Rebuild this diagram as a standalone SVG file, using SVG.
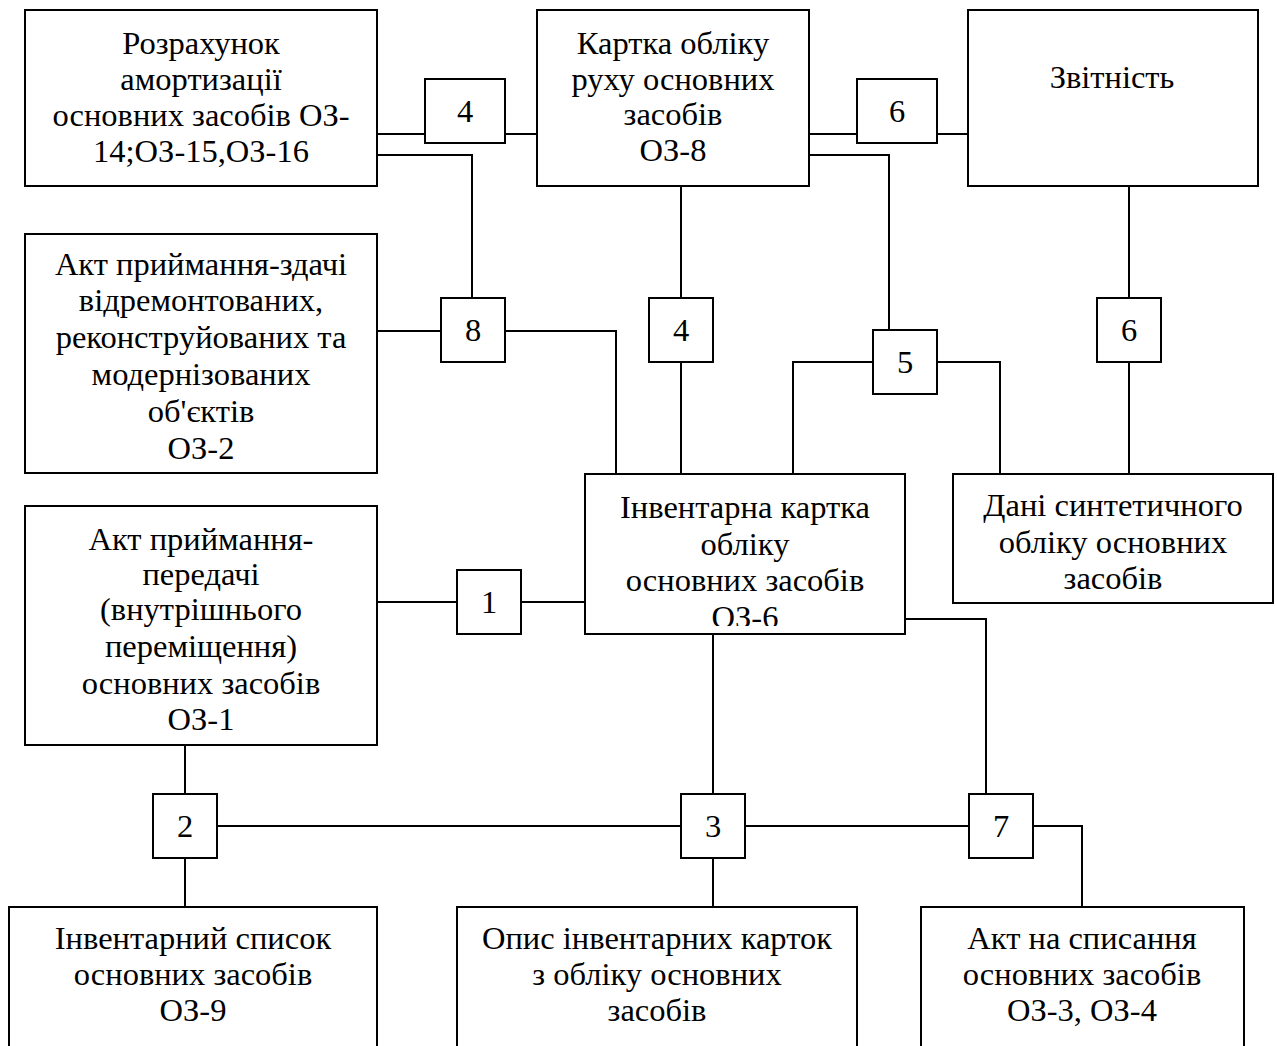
<svg xmlns="http://www.w3.org/2000/svg" width="1277" height="1046" viewBox="0 0 1277 1046">
<style>
rect{fill:#fff;stroke:#000;stroke-width:2}
text{font-family:"Liberation Serif","Times New Roman",serif;font-size:32.5px;fill:#000;text-anchor:middle}
.c path{fill:none;stroke:#000;stroke-width:2}
</style>
<defs>
<clipPath id="clipE"><rect x="585" y="474" width="322" height="152"/></clipPath>
</defs>
<rect x="0" y="0" width="1277" height="1046" style="stroke:none"/>
<g class="c" id="connectors">
<path d="M377 134H425M505 134H537"/>
<path d="M377 155H472V298"/>
<path d="M809 134H857M937 134H968"/>
<path d="M809 155H889V330"/>
<path d="M377 331H441M505 331H616V474"/>
<path d="M681 185V298M681 362V474"/>
<path d="M873 362H793V474M937 362H1000V474"/>
<path d="M1129 185V298M1129 362V474"/>
<path d="M377 602H457M521 602H585"/>
<path d="M905 619H986V794"/>
<path d="M713 634V794M713 858V907"/>
<path d="M185 745V794M185 858V907"/>
<path d="M217 826H681M745 826H969"/>
<path d="M1033 826H1082V907"/>
</g>
<g id="n-rozrakhunok"><rect x="25" y="10" width="352" height="176"/>
<text x="201" y="54">Розрахунок</text><text x="201" y="90">амортизації</text><text x="201" y="126">основних засобів ОЗ-</text><text x="201" y="162">14;ОЗ-15,ОЗ-16</text></g>
<g id="n-kartka"><rect x="537" y="10" width="272" height="176"/>
<text x="673" y="54">Картка обліку</text><text x="673" y="90">руху основних</text><text x="673" y="125">засобів</text><text x="673" y="161">ОЗ-8</text></g>
<g id="n-zvitnist"><rect x="968" y="10" width="290" height="176"/>
<text x="1112" y="88">Звітність</text></g>
<g id="n-akt-zdachi"><rect x="25" y="234" width="352" height="239"/>
<text x="201" y="275">Акт приймання-здачі</text><text x="201" y="311">відремонтованих,</text><text x="201" y="348">реконструйованих та</text><text x="201" y="385">модернізованих</text><text x="201" y="422">об'єктів</text><text x="201" y="459">ОЗ-2</text></g>
<g id="n-inv-kartka"><rect x="585" y="474" width="320" height="160"/>
<g clip-path="url(#clipE)"><text x="745" y="518">Інвентарна картка</text><text x="745" y="555">обліку</text><text x="745" y="591">основних засобів</text><text x="745" y="628">ОЗ-6</text></g></g>
<g id="n-dani"><rect x="953" y="474" width="320" height="129"/>
<text x="1113" y="516">Дані синтетичного</text><text x="1113" y="553">обліку основних</text><text x="1113" y="589">засобів</text></g>
<g id="n-akt-peredachi"><rect x="25" y="506" width="352" height="239"/>
<text x="201" y="550">Акт приймання-</text><text x="201" y="585">передачі</text><text x="201" y="620">(внутрішнього</text><text x="201" y="657">переміщення)</text><text x="201" y="694">основних засобів</text><text x="201" y="730">ОЗ-1</text></g>
<g id="n-inv-spysok"><rect x="9" y="907" width="368" height="150"/>
<text x="193" y="949">Інвентарний список</text><text x="193" y="985">основних засобів</text><text x="193" y="1021">ОЗ-9</text></g>
<g id="n-opys"><rect x="457" y="907" width="400" height="150"/>
<text x="657" y="949">Опис інвентарних карток</text><text x="657" y="985">з обліку основних</text><text x="657" y="1021">засобів</text></g>
<g id="n-akt-spysannia"><rect x="921" y="907" width="323" height="150"/>
<text x="1082" y="949">Акт на списання</text><text x="1082" y="985">основних засобів</text><text x="1082" y="1021">ОЗ-3, ОЗ-4</text></g>
<g id="b4a"><rect x="425" y="79" width="80" height="64"/><text x="465" y="122">4</text></g>
<g id="b6a"><rect x="857" y="79" width="80" height="64"/><text x="897" y="122">6</text></g>
<g id="b8"><rect x="441" y="298" width="64" height="64"/><text x="473" y="341">8</text></g>
<g id="b4b"><rect x="649" y="298" width="64" height="64"/><text x="681" y="341">4</text></g>
<g id="b5"><rect x="873" y="330" width="64" height="64"/><text x="905" y="373">5</text></g>
<g id="b6b"><rect x="1097" y="298" width="64" height="64"/><text x="1129" y="341">6</text></g>
<g id="b1"><rect x="457" y="570" width="64" height="64"/><text x="489" y="613">1</text></g>
<g id="b2"><rect x="153" y="794" width="64" height="64"/><text x="185" y="837">2</text></g>
<g id="b3"><rect x="681" y="794" width="64" height="64"/><text x="713" y="837">3</text></g>
<g id="b7"><rect x="969" y="794" width="64" height="64"/><text x="1001" y="837">7</text></g>
</svg>
